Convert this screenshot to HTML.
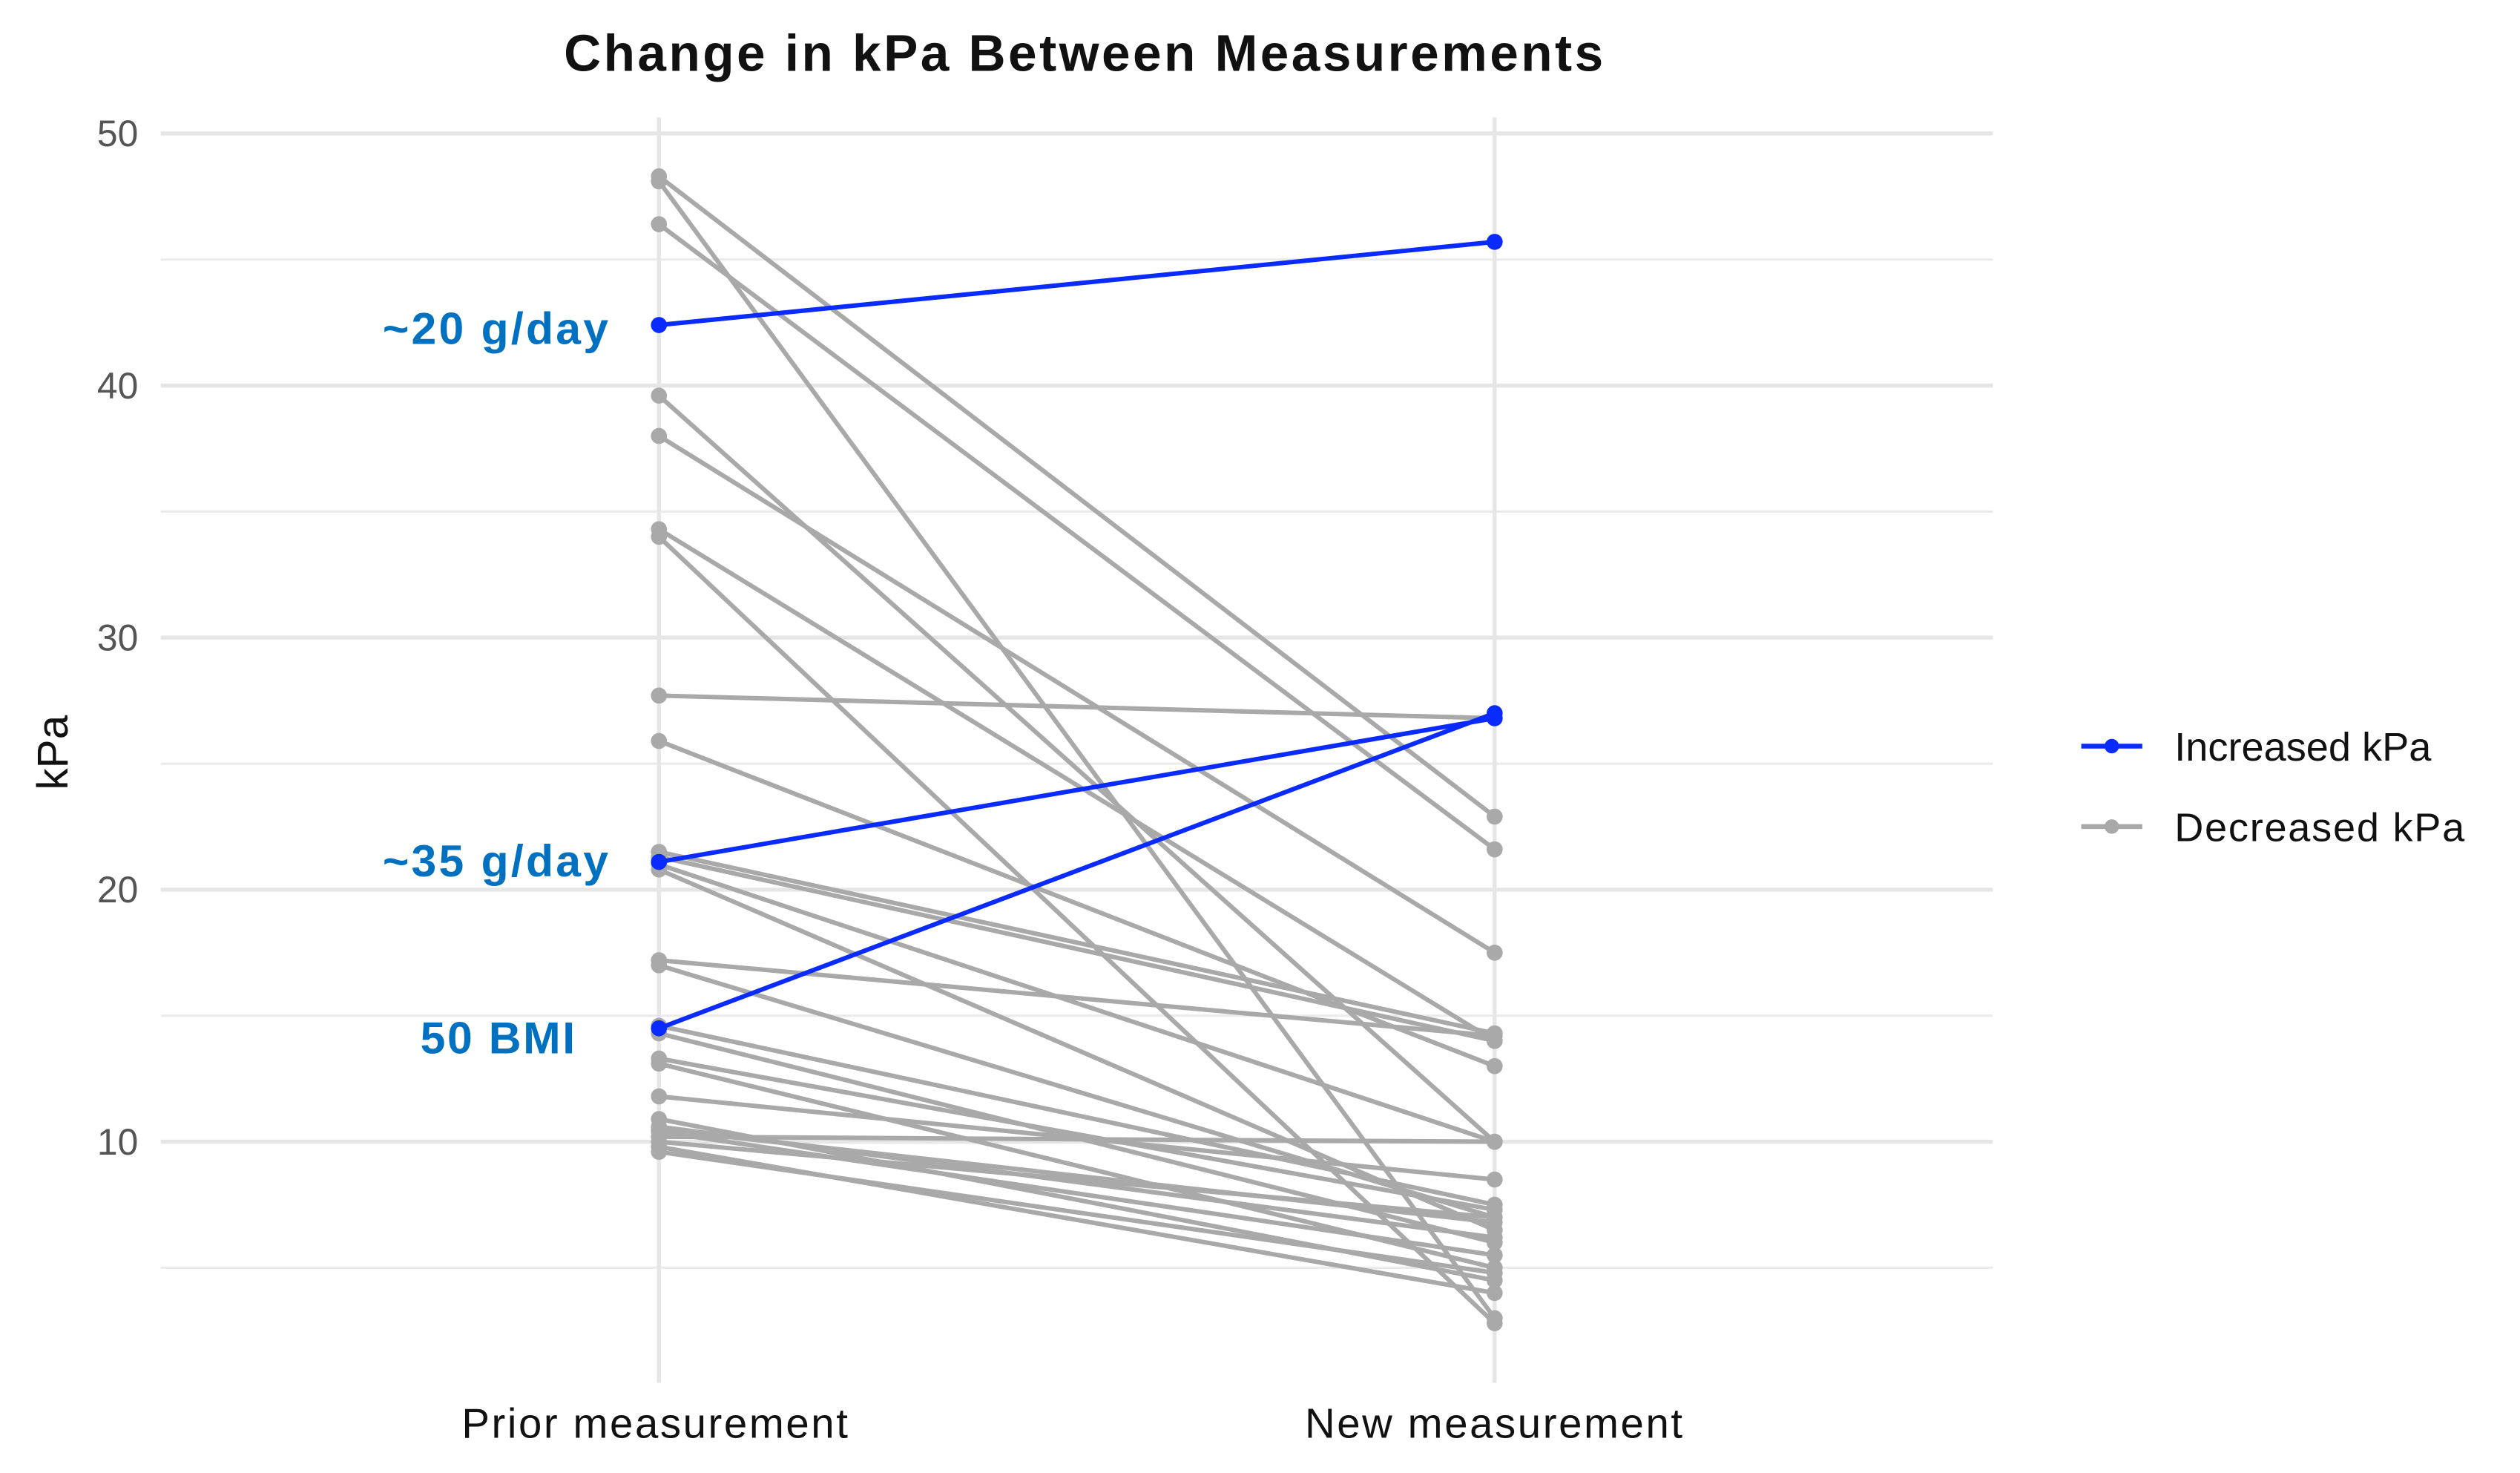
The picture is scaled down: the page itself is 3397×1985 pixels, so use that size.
<!DOCTYPE html>
<html><head><meta charset="utf-8"><style>
html,body{margin:0;padding:0;background:#fff;}
svg{display:block;font-family:"Liberation Sans",sans-serif;}
</style></head><body>
<svg id="chart" width="3397" height="1985" viewBox="0 0 1568 916" preserveAspectRatio="none" xmlns="http://www.w3.org/2000/svg">
<text x="675" y="44" text-anchor="middle" font-size="32" font-weight="bold" letter-spacing="1.6" fill="#111">Change in kPa Between Measurements</text>
<g id="grid"></g>
<g id="marks"></g>
<text transform="translate(42,468) rotate(-90)" text-anchor="middle" font-size="27" fill="#111">kPa</text>
<text x="408" y="894" text-anchor="middle" font-size="26" letter-spacing="1.2" fill="#111">Prior measurement</text>
<text x="930" y="894" text-anchor="middle" font-size="26" letter-spacing="1.2" fill="#111">New measurement</text>
<text x="380" y="214" text-anchor="end" font-size="28" font-weight="bold" letter-spacing="1.5" fill="#0070C0">~20 g/day</text>
<text x="380" y="545" text-anchor="end" font-size="28" font-weight="bold" letter-spacing="1.5" fill="#0070C0">~35 g/day</text>
<text x="359" y="655" text-anchor="end" font-size="28" font-weight="bold" letter-spacing="1.2" fill="#0070C0">50 BMI</text>
<g>
<line x1="1295" y1="464" x2="1333" y2="464" stroke="#0A2BFF" stroke-width="3"/><circle cx="1314" cy="464" r="4.5" fill="#0A2BFF"/>
<text x="1353" y="473" font-size="25" fill="#111">Increased kPa</text>
<line x1="1295" y1="514" x2="1333" y2="514" stroke="#A9A9A9" stroke-width="3"/><circle cx="1314" cy="514" r="4.5" fill="#A9A9A9"/>
<text x="1353" y="523" font-size="25" letter-spacing="0.8" fill="#111">Decreased kPa</text>
</g>
</svg>
<script>
const yTicks=[10,20,30,40,50];
const yMinor=[5,15,25,35,45];
const increasedPrior=[42.4,21.1,14.5];
const increasedNew=[45.7,26.8,27.0];
const decreasedPrior=[48.3,48.1,46.4,39.6,38.0,34.3,34.0,27.7,25.9,21.5,21.3,21.0,20.8,17.2,17.0,14.6,14.3,13.3,13.1,11.8,10.9,10.6,10.5,10.4,10.2,10.0,9.8,9.6];
const decreasedNew=[22.9,3.0,21.6,10.0,17.5,14.0,2.8,26.8,13.0,14.3,14.0,10.0,6.5,14.2,7.0,7.5,6.0,7.3,5.0,8.5,4.5,6.2,6.8,5.5,10.0,7.0,4.0,4.8];
const NS="http://www.w3.org/2000/svg";
const yScale=v=>866.75-v*15.675;
const xPrior=410,xNew=930;
const grid=document.getElementById('grid'),marks=document.getElementById('marks');
function mk(tag,attrs,parent){const e=document.createElementNS(NS,tag);for(const k in attrs)e.setAttribute(k,attrs[k]);parent.appendChild(e);return e;}
yMinor.forEach(v=>{const l=mk('line',{x1:100,x2:1240,y1:yScale(v),y2:yScale(v),stroke:'#EBEBEB','stroke-width':1.5},grid);

});
yTicks.forEach(v=>{const l=mk('line',{x1:100,x2:1240,y1:yScale(v),y2:yScale(v),stroke:'#E6E6E6','stroke-width':2.5},grid);


const t=mk('text',{x:86,y:yScale(v)+8,'text-anchor':'end','font-size':23,fill:'#555'},grid);t.textContent=v;

});
[xPrior,xNew].forEach(x=>{const l=mk('line',{x1:x,x2:x,y1:73,y2:860,stroke:'#E6E6E6','stroke-width':2.5},grid);

});
function series(pr,nw,color,name){for(let i=0;i<pr.length;i++){
const g=mk('g',{},marks);


mk('line',{x1:xPrior,y1:yScale(pr[i]),x2:xNew,y2:yScale(nw[i]),stroke:color,'stroke-width':2.8},g);
mk('circle',{cx:xPrior,cy:yScale(pr[i]),r:5,fill:color},g);
mk('circle',{cx:xNew,cy:yScale(nw[i]),r:5,fill:color},g);}}
series(decreasedPrior,decreasedNew,'#A9A9A9','decreased');
series(increasedPrior,increasedNew,'#0A2BFF','increased');
</script>
</body></html>
